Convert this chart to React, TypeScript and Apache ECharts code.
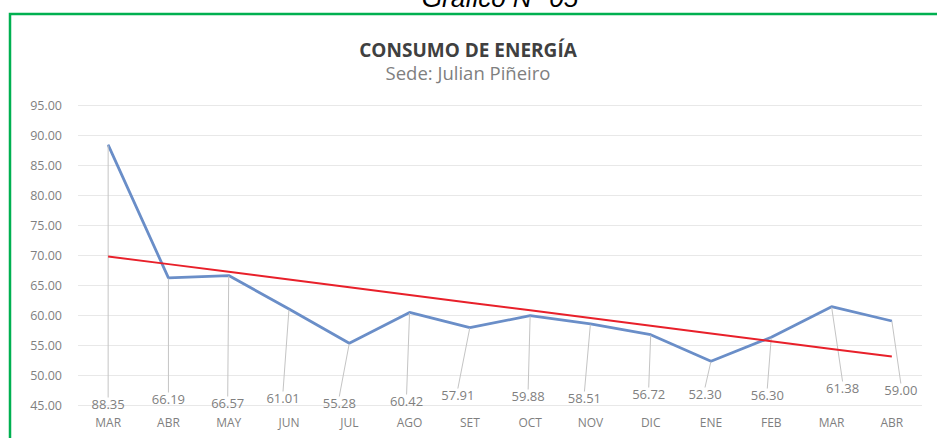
import React, { useEffect, useRef } from "react";
import * as echarts from "echarts";

const months = ["MAR", "ABR", "MAY", "JUN", "JUL", "AGO", "SET", "OCT", "NOV", "DIC", "ENE", "FEB", "MAR", "ABR"];
const consumo = [88.35, 66.19, 66.57, 61.01, 55.28, 60.42, 57.91, 59.88, 58.51, 56.72, 52.30, 56.30, 61.38, 59.00];
const yMin = 45;
const yMax = 95;
const yStep = 5;

// label placement (layout only): horizontal shift and row offset for each data label
const labelDx = [0, 0, -1, -6, -10, -3, -12, -2, -6, -2, -6, -4, 11, 9];
const labelDy = [0, -5, -1, -6, -1, -3, -9, -8, -6, -10, -10, -9, -16, -14];

// linear trendline (least squares) of the series, as Excel draws it
function trend(values: number[]): number[] {
  const n = values.length;
  const mx = (n - 1) / 2;
  const my = values.reduce((a, b) => a + b, 0) / n;
  let sxy = 0;
  let sxx = 0;
  values.forEach((v, i) => {
    sxy += (i - mx) * (v - my);
    sxx += (i - mx) * (i - mx);
  });
  const b = sxy / sxx;
  const a = my - b * mx;
  return values.map((_, i) => +(a + b * i).toFixed(3));
}

const W = 937;
const H = 438;
const GRID_TOP = 105;
const GRID_BOTTOM = 33;
const LABEL_ROW = H - GRID_BOTTOM - 1;
const FONT = "'Open Sans'";

export default function App() {
  const ref = useRef<HTMLDivElement>(null);
  useEffect(() => {
    if (!ref.current) return;
    const chart = echarts.init(ref.current, null, { renderer: "svg" });
    chart.setOption({
      animation: false,
      backgroundColor: "#ffffff",
      textStyle: { fontFamily: FONT },
      graphic: [
        {
          type: "text",
          x: 500,
          y: -15,
          style: {
            text: "Gráfico N° 05",
            font: "italic 26px 'Liberation Sans', Arial",
            fill: "#000000",
            align: "center",
          },
          z: 10,
        },
        {
          type: "rect",
          shape: { x: 10, y: 14, width: 1000, height: 500 },
          style: { fill: "none", stroke: "#00b050", lineWidth: 2.5 },
          z: 10,
        },
      ],
      title: {
        text: "CONSUMO DE ENERGÍA",
        subtext: "Sede: Julian Piñeiro",
        left: 463,
        textAlign: "center",
        top: 35,
        itemGap: 4,
        textStyle: { fontFamily: FONT, fontSize: 19, fontWeight: "bold", color: "#404040" },
        subtextStyle: { fontFamily: FONT, fontSize: 18.5, color: "#7f7f7f" },
      },
      grid: { left: 78, right: 15, top: GRID_TOP, bottom: GRID_BOTTOM, containLabel: false },
      xAxis: {
        type: "category",
        data: months,
        boundaryGap: true,
        axisLine: { show: false },
        axisTick: { show: false },
        axisLabel: { color: "#7f7f7f", fontSize: 12, margin: 11, fontFamily: FONT },
      },
      yAxis: {
        type: "value",
        min: yMin,
        max: yMax,
        interval: yStep,
        axisLine: { show: false },
        axisTick: { show: false },
        splitLine: { lineStyle: { color: "#e8e8e8", width: 1 } },
        axisLabel: {
          color: "#7f7f7f",
          fontSize: 12.5,
          margin: 16,
          fontFamily: FONT,
          formatter: (v: number) => v.toFixed(2),
        },
      },
      series: [
        {
          type: "line",
          data: consumo,
          symbol: "circle",
          symbolSize: 1,
          showSymbol: true,
          itemStyle: { color: "#6a8ec8" },
          lineStyle: { color: "#6a8ec8", width: 2.8 },
          label: {
            show: true,
            position: "bottom",
            color: "#7f7f7f",
            fontSize: 13,
            fontFamily: FONT,
            formatter: (p: any) => (p.value as number).toFixed(2),
          },
          labelLine: { show: true, length2: 0, lineStyle: { color: "#c4c4c4", width: 1 } },
          labelLayout: (p: any) => {
            const i = p.dataIndex;
            return {
              x: p.rect.x + p.rect.width / 2 + labelDx[i],
              y: LABEL_ROW + labelDy[i],
              align: "center",
              verticalAlign: "middle",
            };
          },
          z: 2,
        },
        {
          type: "line",
          data: trend(consumo),
          symbol: "none",
          lineStyle: { color: "#e8202a", width: 2 },
          silent: true,
          z: 3,
        },
      ],
    });
    return () => chart.dispose();
  }, []);
  return (
    <div
      ref={ref}
      style={{ position: "absolute", left: 0, top: 0, width: W, height: H }}
    />
  );
}
